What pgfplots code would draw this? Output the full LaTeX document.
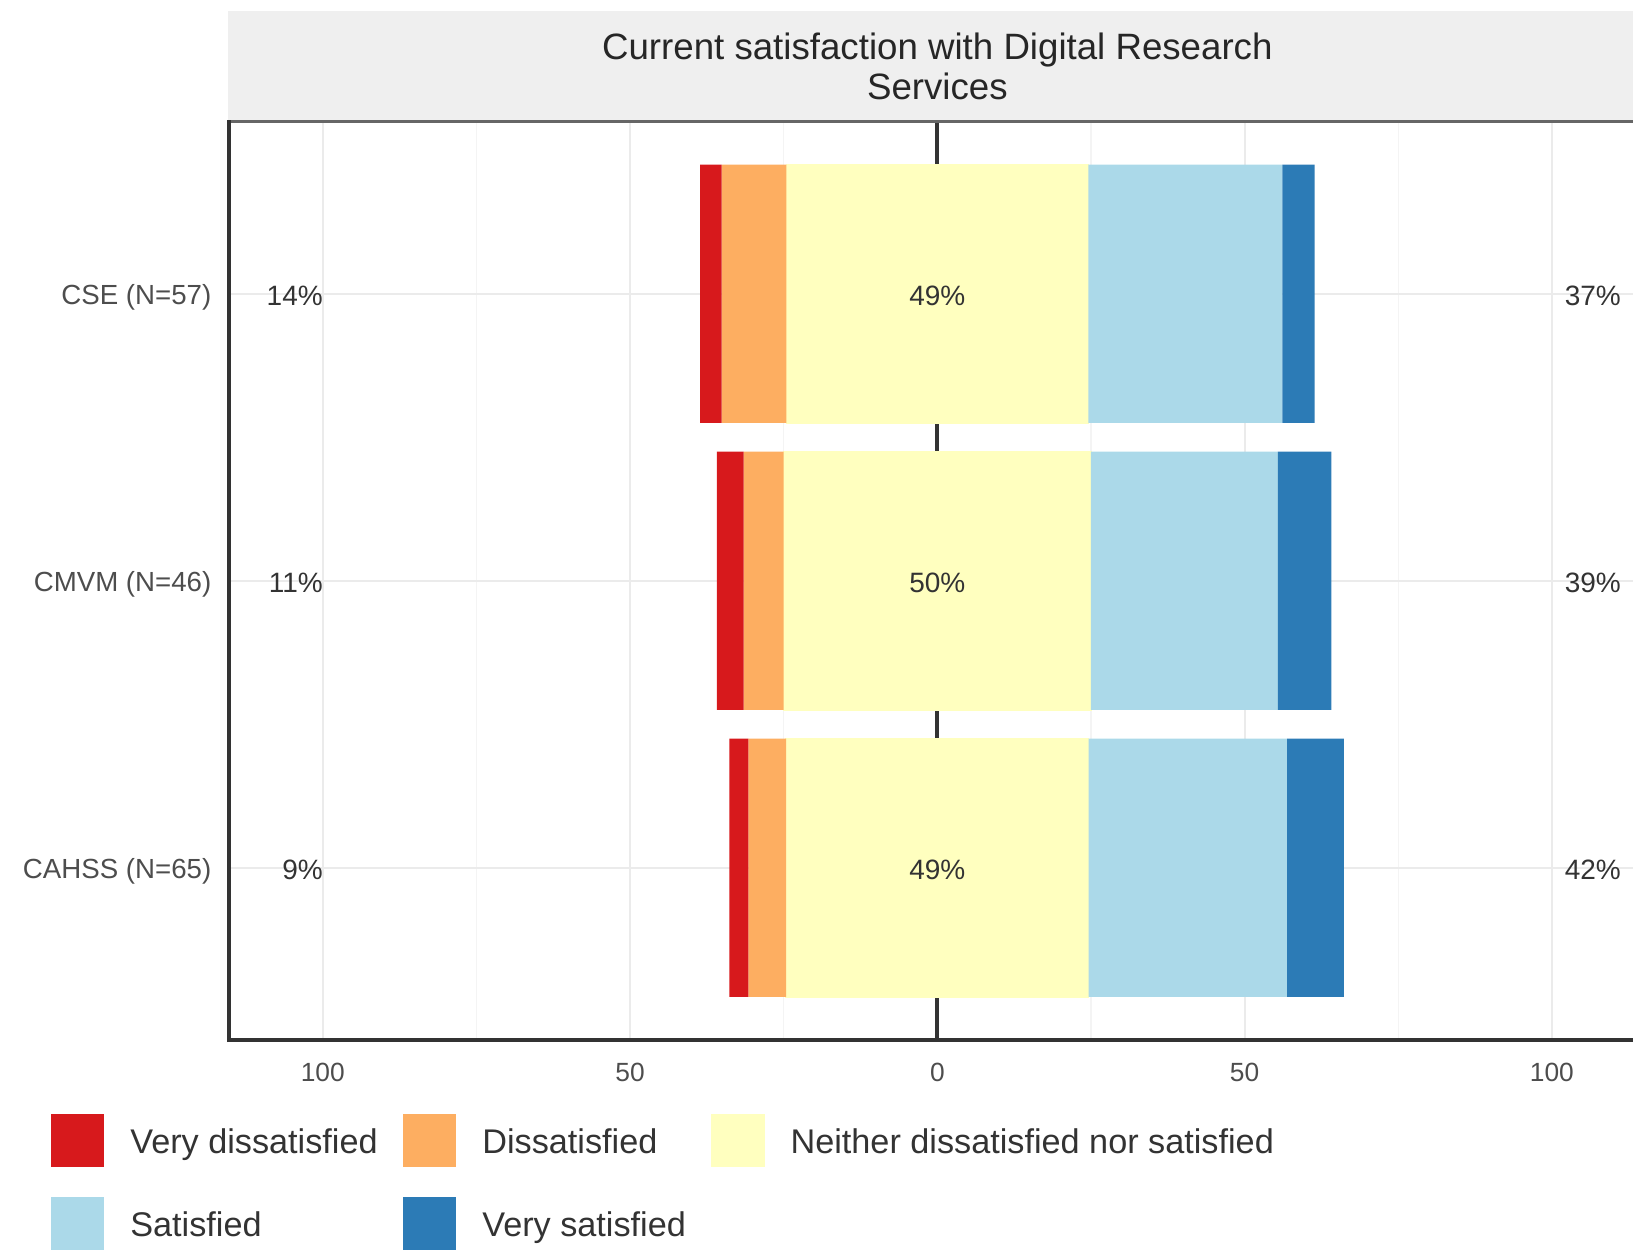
\documentclass[border=0pt]{standalone}
\usepackage{pgfplots}
\usepackage{pgfplotstable}
\pgfplotsset{compat=1.18}
\usepackage{fontspec}
\setmainfont{Liberation Sans}
\definecolor{vdis}{HTML}{D7191C}
\definecolor{dis}{HTML}{FDAE61}
\definecolor{neu}{HTML}{FFFFBF}
\definecolor{sat}{HTML}{ABD9E9}
\definecolor{vsat}{HTML}{2C7BB6}
\definecolor{stripc}{HTML}{EFEFEF}
\definecolor{axtext}{HTML}{4D4D4D}
\definecolor{txtc}{HTML}{333333}
\definecolor{gmaj}{HTML}{EBEBEB}
\definecolor{gmin}{HTML}{F4F4F4}

\pgfplotsset{
  sqlegend/.style={legend image code/.code={\fill[##1] (0bp,-8bp) rectangle (16bp,8bp);}},
}
\tikzset{pct/.style={font=\fontsize{8.4bp}{9bp}\selectfont, text=txtc, inner sep=0pt, yshift=-0.6bp}}

% y: 3=CSE, 2=CMVM, 1=CAHSS ; percentages of respondents
% negative side: half of neutral, dissatisfied, very dissatisfied (stacked leftwards)
% positive side: half of neutral, satisfied, very satisfied (stacked rightwards)
\pgfplotstableread{
y  VD    D      Nneg    Npos   S     VS
3  -3.51 -10.53 -24.56  24.56  31.58 5.26
2  -4.35 -6.52  -25.00  25.00  30.43 8.70
1  -3.08 -6.15  -24.615 24.615 32.31 9.23
}\likerttab

\begin{document}
\begin{tikzpicture}
\path[use as bounding box] (-68.7bp,-63bp) rectangle (421.2bp,312bp);
\begin{axis}[
  scale only axis,
  width=421.2bp, height=275.55bp,
  xmin=-115.26, xmax=113.2,
  ymin=0.4, ymax=3.6,
  xbar stacked,
  reverse stacked plots=false,
  bar width=0.9,
  axis x line*=bottom, axis y line*=left,
  axis line style={draw=txtc, line width=1.2bp},
  major tick length=0pt, minor tick length=0pt,
  xtick={-100,-50,0,50,100},
  xticklabels={100,50,0,50,100},
  minor xtick={-75,-25,25,75},
  ytick={1,2,3},
  yticklabels={CAHSS (N=65),CMVM (N=46),CSE (N=57)},
  xmajorgrids, xminorgrids, ymajorgrids,
  major grid style={draw=gmaj, line width=0.6bp},
  minor grid style={draw=gmin, line width=0.4bp},
  xticklabel style={font=\fontsize{7.9bp}{9bp}\selectfont, text=axtext, inner sep=0pt, yshift=-6.6bp},
  yticklabel style={font=\fontsize{8.3bp}{9bp}\selectfont, text=axtext, inner sep=0pt, xshift=-5.1bp, yshift=-1.2bp},
  clip=false,
  legend columns=3,
  legend cell align=left,
  sqlegend,
  legend style={
    at={(axis description cs:-0.1268,-0.0806)}, anchor=north west,
    draw=none, fill=none, inner sep=0pt, outer sep=0pt,
    font=\fontsize{10.27bp}{12bp}\selectfont, text=txtc,
    nodes={inner sep=0pt, text depth=0pt},
    row sep=8.9bp, column sep=7.8bp,
    /tikz/every even column/.append style={column sep=7.6bp},
  },
]
% reference line at zero, drawn behind the bars
\addplot[sharp plot, stack plots=false, draw=txtc, line width=1.2bp, forget plot] coordinates {(0,0.4) (0,3.6)};
\addplot[fill=neu, draw=neu, line width=0.4bp, forget plot] table[x=Nneg, y=y] {\likerttab};
\addplot[fill=neu, draw=neu, line width=0.4bp, forget plot] table[x=Npos, y=y] {\likerttab};
\addplot[fill=dis, draw=none, forget plot] table[x=D, y=y] {\likerttab};
\addplot[fill=vdis, draw=none, forget plot] table[x=VD, y=y] {\likerttab};
\addplot[fill=sat, draw=none, forget plot] table[x=S, y=y] {\likerttab};
\addplot[fill=vsat, draw=none, forget plot] table[x=VS, y=y] {\likerttab};
\addlegendimage{fill=vdis, draw=none}
\addlegendimage{fill=dis, draw=none}
\addlegendimage{fill=neu, draw=none}
\addlegendimage{fill=sat, draw=none}
\addlegendimage{fill=vsat, draw=none}
\legend{Very dissatisfied, Dissatisfied, Neither dissatisfied nor satisfied, Satisfied, Very satisfied}

\coordinate (L3) at (axis cs:-99.9,3);
\coordinate (L2) at (axis cs:-99.9,2);
\coordinate (L1) at (axis cs:-99.9,1);
\coordinate (C3) at (axis cs:0,3);
\coordinate (C2) at (axis cs:0,2);
\coordinate (C1) at (axis cs:0,1);
\coordinate (R3) at (axis cs:102,3);
\coordinate (R2) at (axis cs:102,2);
\coordinate (R1) at (axis cs:102,1);
\end{axis}
\node[pct, anchor=east] at (L3) {14\%};
\node[pct, anchor=east] at (L2) {11\%};
\node[pct, anchor=east] at (L1) {9\%};
\node[pct] at (C3) {49\%};
\node[pct] at (C2) {50\%};
\node[pct] at (C1) {49\%};
\node[pct, anchor=west] at (R3) {37\%};
\node[pct, anchor=west] at (R2) {39\%};
\node[pct, anchor=west] at (R1) {42\%};
% facet strip
\fill[stripc] (-0.3bp,275.55bp) rectangle (425bp,308.8bp);
\draw[draw=black!60, line width=0.9bp] (-0.3bp,275.55bp) -- (425bp,275.55bp);
\draw[draw=txtc, line width=1.2bp] (0bp,-0.6bp) -- (0bp,276bp);
\node[anchor=base, inner sep=0pt, font=\fontsize{11bp}{12bp}\selectfont, text=black!85] at (212.5bp,294.2bp) {Current satisfaction with Digital Research};
\node[anchor=base, inner sep=0pt, font=\fontsize{11bp}{12bp}\selectfont, text=black!85] at (212.5bp,282.1bp) {Services};
\end{tikzpicture}
\end{document}
